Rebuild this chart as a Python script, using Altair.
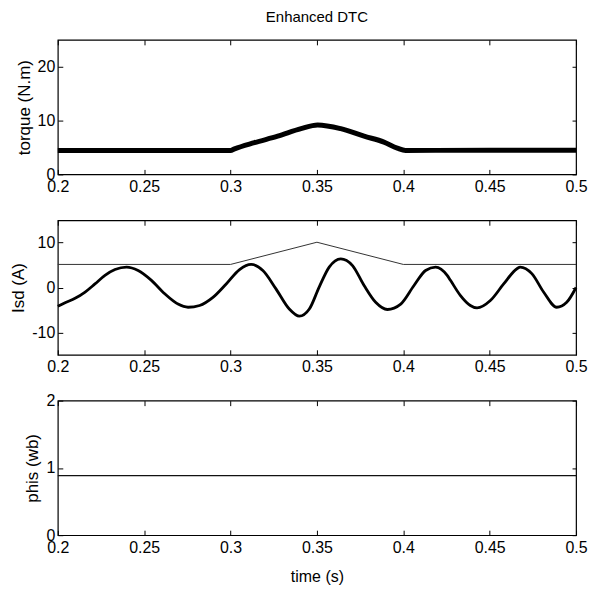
import altair as alt
import pandas as pd

# ---- data ----
torque_t = [0.2, 0.25, 0.3, 0.3023, 0.3138, 0.3273, 0.3408, 0.3504, 0.3638, 0.3773, 0.3888, 0.3965, 0.4013, 0.45, 0.5]
torque_v = [4.45, 4.45, 4.45, 4.75, 5.9, 7.1, 8.5, 9.2, 8.5, 7.1, 6.0, 4.9, 4.45, 4.5, 4.5]

isd_ref_t = [0.2, 0.3, 0.35, 0.4, 0.5]
isd_ref_v = [5.15, 5.15, 10.1, 5.15, 5.15]

isd_t = [0.2, 0.2042, 0.21, 0.2158, 0.2215, 0.2273, 0.2331, 0.2398, 0.2465, 0.2542,
         0.2619, 0.2696, 0.2754, 0.2821, 0.2898, 0.2975, 0.3052, 0.3119, 0.3187, 0.3263,
         0.334, 0.3398, 0.3456, 0.3513, 0.3571, 0.3638, 0.3706, 0.3773, 0.384, 0.3908,
         0.3985, 0.4062, 0.4129, 0.4187, 0.4254, 0.4273, 0.4331, 0.4388, 0.4427, 0.4504,
         0.4581, 0.4658, 0.4677, 0.4744, 0.4812, 0.4888, 0.4946, 0.5]
isd_v = [-4.2, -3.4, -2.4, -1.0, 0.8, 2.7, 4.0, 4.55, 3.8, 1.6,
         -1.4, -3.7, -4.4, -4.0, -2.2, 0.8, 4.0, 5.15, 3.8, -0.3,
         -4.8, -6.4, -4.8, 0.1, 4.55, 6.4, 4.9, 0.45, -3.3, -4.9,
         -3.7, 0.45, 3.8, 4.55, 2.7, 1.6, -1.8, -4.0, -4.55, -2.9,
         0.8, 4.2, 4.55, 3.1, -1.0, -4.4, -3.3, 0.0]

phis_t = [0.2, 0.25, 0.3, 0.35, 0.4, 0.45, 0.5]
phis_v = [0.885, 0.885, 0.885, 0.885, 0.885, 0.885, 0.885]

x_ticks = [0.2, 0.25, 0.3, 0.35, 0.4, 0.45, 0.5]

FONT = "Liberation Sans"
W, H = 520, 135


def panel(layers_data, ydomain, yticks, ytitle, xtitle=None, title=None):
    xs = alt.Scale(domain=[0.2, 0.5], nice=False, zero=False)
    ys = alt.Scale(domain=ydomain, nice=False, zero=False)
    xaxis = alt.Axis(orient="bottom", values=x_ticks, labelExpr="'' + datum.value",
                     tickSize=5, offset=-5, domain=False, grid=False, labelPadding=4,
                     labelFlush=False, labelOverlap=False, labelFontSize=16, labelFont=FONT,
                     labelColor="black", tickColor="black",
                     title=xtitle if xtitle else None, titleFontSize=16, titleFont=FONT,
                     titleFontWeight="normal", titlePadding=13, titleColor="black")
    yaxis = alt.Axis(orient="left", values=yticks, labelExpr="'' + datum.value",
                     tickSize=5, offset=-5, domain=False, grid=False, labelPadding=3,
                     labelFontSize=16, labelFont=FONT, labelColor="black", tickColor="black",
                     labelOverlap=False, labelFlush=False,
                     title=ytitle, titleFontSize=17, titleFont=FONT, titleFontWeight="normal",
                     titlePadding=4, titleColor="black")
    main_layers = []
    for df, sw, col, interp in layers_data:
        main_layers.append(
            alt.Chart(df).mark_line(color=col, strokeWidth=sw, interpolate=interp).encode(
                x=alt.X("t:Q", scale=xs, axis=xaxis),
                y=alt.Y("v:Q", scale=ys, axis=yaxis),
            )
        )
    base = alt.layer(*main_layers)
    dummy = alt.Chart(layers_data[0][0]).mark_line(strokeOpacity=0).encode(
        x=alt.X("t:Q", scale=xs, axis=alt.Axis(orient="top", values=x_ticks, labels=False,
                                               tickSize=5, offset=-5, domain=False, grid=False,
                                               tickColor="black", title=None)),
        y=alt.Y("v:Q", scale=ys, axis=alt.Axis(orient="right", values=yticks, labels=False,
                                               tickSize=4, offset=-4, domain=False, grid=False,
                                               tickColor="black", title=None)),
    )
    ch = alt.layer(base, dummy).resolve_scale(x="independent", y="independent").resolve_axis(
        x="independent", y="independent")
    props = dict(width=W, height=H)
    if title:
        props["title"] = alt.TitleParams(title, anchor="middle", fontSize=15, font=FONT,
                                         fontWeight="normal", color="black", offset=14)
    return ch.properties(**props)


df_torque = pd.DataFrame({"t": torque_t, "v": torque_v})
df_isd = pd.DataFrame({"t": isd_t, "v": isd_v})
df_isd_ref = pd.DataFrame({"t": isd_ref_t, "v": isd_ref_v})
df_phis = pd.DataFrame({"t": phis_t, "v": phis_v})

p1 = panel([(df_torque, 5, "black", "monotone")], [0, 25], [0, 10, 20], "torque (N.m)",
           title="Enhanced DTC")
p2 = panel([(df_isd, 2.8, "black", "monotone"), (df_isd_ref, 1, "#333333", "linear")],
           [-15, 15], [-10, 0, 10], "Isd (A)")
p3 = panel([(df_phis, 1.3, "#111111", "linear")], [0, 2], [0, 1, 2], "phis (wb)",
           xtitle="time (s)")

chart = alt.vconcat(p1, p2, p3, spacing=46, bounds="flush").properties(
    padding={"left": 9, "top": 8, "right": 2, "bottom": 2},
    background="white",
).configure_view(stroke="black", strokeWidth=1.2)

chart.save("out.html", embed_options={"renderer": "svg", "actions": False})
